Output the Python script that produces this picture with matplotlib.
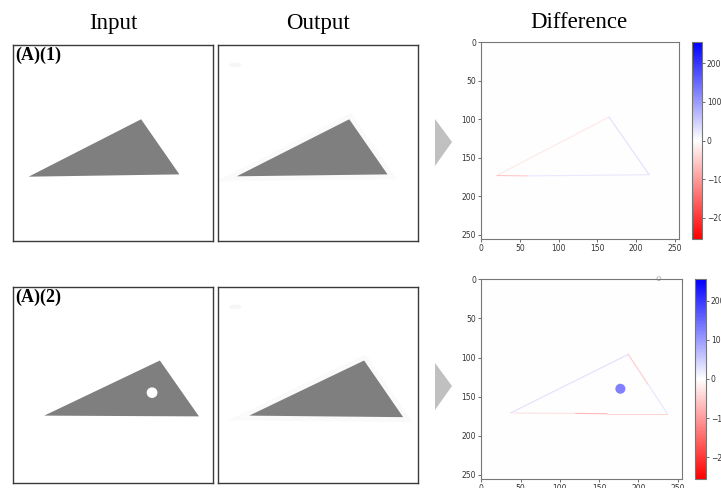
import numpy as np
import matplotlib
matplotlib.use("Agg")
import matplotlib.pyplot as plt
from matplotlib.patches import Polygon, Circle, Ellipse
from matplotlib.colors import Normalize
from matplotlib.cm import ScalarMappable

# triangle vertices (image pixel coords, 256x256 images, y down)
in1_x = [20, 164, 213]
in1_y = [172, 97, 169]
out1_x = [24, 168, 217]
out1_y = [171.5, 97, 169]

in2_x = [40, 188, 238]
in2_y = [168, 96, 169]
out2_x = [40, 187, 237]
out2_y = [168, 96, 170]

# white hole in the second input
hole_x, hole_y, hole_r = 178, 138, 6

# difference image: faint edge residues (segment ends and values)
d1_x0 = [20, 165, 20, 60]
d1_y0 = [173, 97, 173, 173.5]
d1_x1 = [165, 217, 60, 217]
d1_y1 = [97, 172, 173.5, 172]
d1_val = [-22, 30, -55, 22]

d2_x0 = [37, 187, 212, 40, 120, 160]
d2_y0 = [171, 96, 134, 171, 171.5, 172]
d2_x1 = [187, 212, 237, 120, 160, 237]
d2_y1 = [96, 134, 172, 171.5, 172, 172]
d2_val = [30, -50, 25, -30, -70, -40]
d2_dot_x, d2_dot_y, d2_dot_r, d2_dot_val = 177, 140, 5.5, 127

cb_ticks = [-200, -100, 0, 100, 200]
vmin, vmax = -255, 255

W, H = 721, 488
fig = plt.figure(figsize=(W / 100, H / 100), dpi=100)
serif = ["Liberation Serif", "DejaVu Serif"]


def px_axes(l, t, r, b):
    return fig.add_axes([l / W, 1 - b / H, (r - l) / W, (b - t) / H])


def image_panel(l, t, tri_x, tri_y, hole=False, ghost=False, label=None):
    ax = px_axes(l, t, l + 200, t + 196)
    ax.set_xlim(0, 256)
    ax.set_ylim(256, 0)
    ax.set_xticks([])
    ax.set_yticks([])
    for s in ax.spines.values():
        s.set_color("#3a3a3a")
        s.set_linewidth(1.0)
    if ghost:
        ax.add_patch(Polygon(np.column_stack([tri_x, tri_y]), closed=True,
                             facecolor="none", edgecolor="#fafafa", lw=7, zorder=1))
        ax.add_patch(Ellipse((22, 26), 14, 4, color="#f6f6f6", zorder=1))
    ax.add_patch(Polygon(np.column_stack([tri_x, tri_y]), closed=True,
                         facecolor="#7f7f7f", edgecolor="none", zorder=2))
    if hole:
        ax.add_patch(Circle((hole_x, hole_y), hole_r, color="white", zorder=3))
    if label:
        ax.text(0.012, 0.99, label, transform=ax.transAxes, ha="left", va="top",
                fontsize=13, fontweight="bold", family=serif)
    return ax


cmap = plt.get_cmap("bwr_r")
norm = Normalize(vmin=vmin, vmax=vmax)


def diff_panel(box, cbox, x0, y0, x1, y1, vals):
    ax = px_axes(*box)
    ax.set_facecolor("#fefefe")
    ax.set_xlim(-0.5, 255.5)
    ax.set_ylim(255.5, -0.5)
    ax.set_xticks([0, 50, 100, 150, 200, 250])
    ax.set_yticks([0, 50, 100, 150, 200, 250])
    ax.tick_params(labelsize=5.5, length=2, width=0.5, pad=1.5, colors="#333333")
    for s in ax.spines.values():
        s.set_color("#777777")
        s.set_linewidth(0.8)
    for a, b, c, d, v in zip(x0, y0, x1, y1, vals):
        ax.plot([a, c], [b, d], color=cmap(norm(v)), lw=0.8, solid_capstyle="round")
    cax = px_axes(*cbox)
    cb = fig.colorbar(ScalarMappable(norm=norm, cmap=cmap), cax=cax, ticks=cb_ticks)
    cb.outline.set_edgecolor("#777777")
    cb.outline.set_linewidth(0.8)
    cax.tick_params(labelsize=5.5, length=2, width=0.5, pad=1.5, colors="#333333")
    return ax


# row 1
image_panel(13, 45, in1_x, in1_y, label="(A)(1)")
image_panel(218, 45, out1_x, out1_y, ghost=True)
diff_panel((481, 42, 679, 239), (692, 42, 702, 239), d1_x0, d1_y0, d1_x1, d1_y1, d1_val)

# row 2
image_panel(13, 287, in2_x, in2_y, hole=True, label="(A)(2)")
image_panel(218, 287, out2_x, out2_y, ghost=True)
ax2 = diff_panel((481, 279, 682, 479), (695, 279, 706, 479), d2_x0, d2_y0, d2_x1, d2_y1, d2_val)
ax2.add_patch(Circle((d2_dot_x, d2_dot_y), d2_dot_r, color=cmap(norm(d2_dot_val))))
ax2.scatter([226], [-1], s=8, facecolors="none", edgecolors="#b0b0b0", linewidths=0.6, clip_on=False)

# gray arrows between output and difference
for t0 in (119, 363):
    pts = [(435 / W, 1 - t0 / H), (435 / W, 1 - (t0 + 47) / H), (452 / W, 1 - (t0 + 23) / H)]
    fig.patches.append(Polygon(pts, closed=True, transform=fig.transFigure,
                               facecolor="#c0c0c0", edgecolor="none"))

# column titles
for x, txt in ((113, "Input"), (318, "Output"), (579, "Difference")):
    fig.text(x / W, 1 - 23 / H, txt, ha="center", va="center", fontsize=16.5, family=serif)

fig.savefig("out.png", dpi=100)
